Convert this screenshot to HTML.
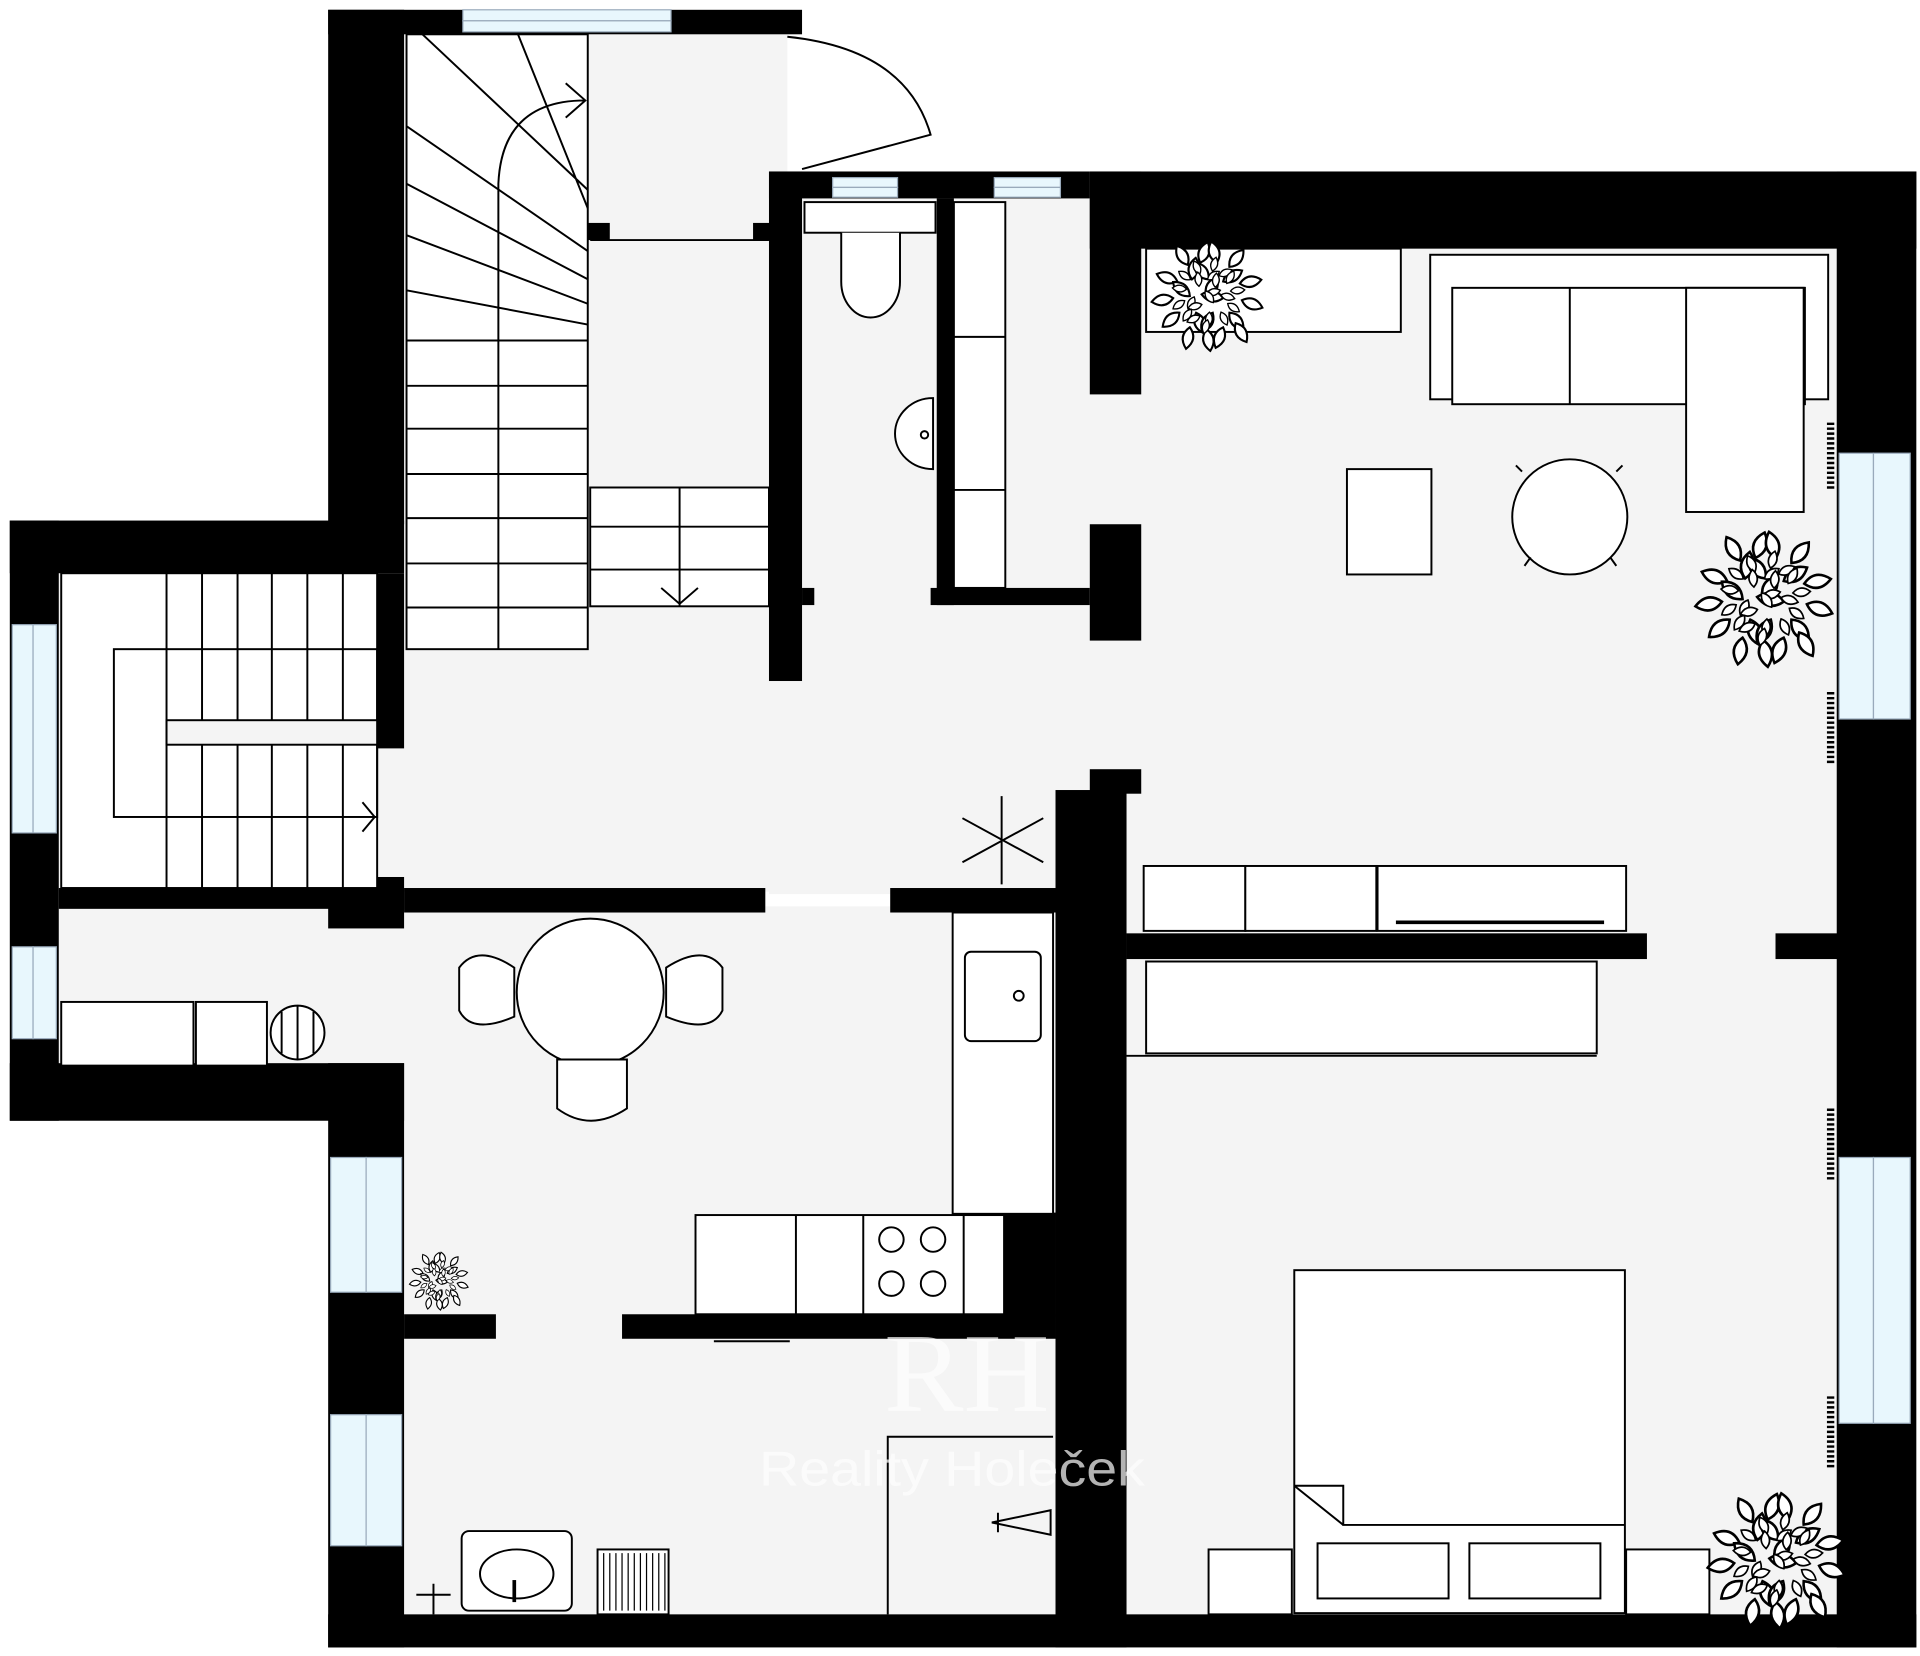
<!DOCTYPE html>
<html><head><meta charset="utf-8"><style>html,body{margin:0;padding:0;background:#fff}svg{display:block}</style></head>
<body>
<svg width="1920" height="1656" viewBox="0 0 1568 1352" preserveAspectRatio="none" xmlns="http://www.w3.org/2000/svg">
<defs>
<path id="lf" d="M0 0 Q10 -10 0 -21 Q-10 -10 0 0Z" fill="#fff" stroke="#000" stroke-width="2"/>
<g id="plant0">
<use href="#lf" transform="translate(-20,-28) rotate(-30)"/>
<use href="#lf" transform="translate(-8,-30) rotate(20)"/>
<use href="#lf" transform="translate(8,-30) rotate(-15)"/>
<use href="#lf" transform="translate(20,-26) rotate(40)"/>
<use href="#lf" transform="translate(-30,-12) rotate(-70)"/>
<use href="#lf" transform="translate(-16,-14) rotate(10)"/>
<use href="#lf" transform="translate(0,-14) rotate(-40)"/>
<use href="#lf" transform="translate(14,-12) rotate(60)"/>
<use href="#lf" transform="translate(30,-10) rotate(80)"/>
<use href="#lf" transform="translate(-34,4) rotate(-100)"/>
<use href="#lf" transform="translate(-18,2) rotate(-50)"/>
<use href="#lf" transform="translate(-2,2) rotate(30)"/>
<use href="#lf" transform="translate(14,4) rotate(-80)"/>
<use href="#lf" transform="translate(32,6) rotate(110)"/>
<use href="#lf" transform="translate(-28,18) rotate(-130)"/>
<use href="#lf" transform="translate(-12,18) rotate(160)"/>
<use href="#lf" transform="translate(4,18) rotate(-150)"/>
<use href="#lf" transform="translate(20,18) rotate(140)"/>
<use href="#lf" transform="translate(-18,32) rotate(190)"/>
<use href="#lf" transform="translate(-2,34) rotate(170)"/>
<use href="#lf" transform="translate(14,32) rotate(200)"/>
<use href="#lf" transform="translate(26,28) rotate(150)"/>
</g>
<g id="plant">
<use href="#plant0"/>
<use href="#plant0" transform="rotate(45) scale(0.65)"/>
</g>
</defs>
<rect width="1568" height="1352" fill="#fff"/>
<g fill="#f4f4f4">
<rect x="330" y="28" width="313" height="700"/>
<rect x="628" y="160" width="300" height="570"/>
<rect x="920" y="200" width="585" height="1120"/>
<rect x="330" y="740" width="540" height="580"/>
<rect x="48" y="465" width="285" height="405"/>
</g>
<g fill="#000">
<rect x="268" y="8" width="62" height="420"/>
<rect x="268" y="8" width="387" height="20"/>
<rect x="628" y="140" width="27" height="416"/>
<rect x="628" y="140" width="262" height="22"/>
<rect x="890" y="140" width="675" height="63"/>
<rect x="1500" y="140" width="65" height="1205"/>
<rect x="890" y="140" width="42" height="182"/>
<rect x="890" y="428" width="42" height="95"/>
<rect x="890" y="628" width="42" height="20"/>
<rect x="862" y="645" width="58" height="700"/>
<rect x="268" y="1318" width="1297" height="27"/>
<rect x="8" y="425" width="40" height="490"/>
<rect x="8" y="425" width="322" height="43"/>
<rect x="8" y="868" width="322" height="47"/>
<rect x="268" y="868" width="62" height="477"/>
<rect x="48" y="725" width="282" height="17"/>
<rect x="268" y="725" width="62" height="33"/>
<rect x="330" y="725" width="295" height="20"/>
<rect x="727" y="725" width="140" height="20"/>
<rect x="330" y="1073" width="75" height="20"/>
<rect x="508" y="1073" width="354" height="20"/>
<rect x="820" y="990" width="42" height="85"/>
<rect x="920" y="762" width="425" height="21"/>
<rect x="1450" y="762" width="55" height="21"/>
<rect x="765" y="162" width="14" height="332"/>
<rect x="760" y="480" width="130" height="14"/>
<rect x="480" y="182" width="18" height="14"/>
<rect x="615" y="182" width="15" height="14"/>
<rect x="655" y="480" width="10" height="14"/>
<rect x="308" y="468" width="22" height="143"/>
<rect x="308" y="716" width="22" height="12"/>
</g>
<g fill="#e8f7fd" stroke="#9ab" stroke-width="1">
<rect x="378" y="8" width="170" height="9"/><rect x="378" y="17" width="170" height="9"/>
<rect x="680" y="145" width="53" height="8"/><rect x="680" y="153" width="53" height="8"/>
<rect x="812" y="145" width="54" height="8"/><rect x="812" y="153" width="54" height="8"/>
<rect x="1502" y="370" width="28" height="217"/><rect x="1530" y="370" width="30" height="217"/>
<rect x="1502" y="945" width="28" height="217"/><rect x="1530" y="945" width="30" height="217"/>
<rect x="10" y="510" width="17" height="170"/><rect x="27" y="510" width="19" height="170"/>
<rect x="10" y="773" width="17" height="75"/><rect x="27" y="773" width="19" height="75"/>
<rect x="270" y="945" width="29" height="110"/><rect x="299" y="945" width="29" height="110"/>
<rect x="270" y="1155" width="29" height="107"/><rect x="299" y="1155" width="29" height="107"/>
</g>
<g fill="none" stroke="#000" stroke-width="1.6">
<path d="M643 30 Q740 40 760 110 L655 138"/>
<rect x="332" y="28" width="148" height="502" fill="#fff"/>
<path d="M407 530 V150 Q410 82 478 82 M462 68 L478 82 L462 96"/>
<path d="M345 28 L480 155 M423 28 L480 170 M332 103 L480 205 M332 150 L480 228 M332 192 L480 248 M332 237 L480 265 M332 278H480 M332 315H480 M332 350H480 M332 387H480 M332 423H480 M332 460H480 M332 496H480"/>
<rect x="482" y="398" width="146" height="97" fill="#fff"/>
<path d="M482 430H628 M482 465H628 M555 398V495 M540 480 L555 493 L570 480"/>
<path d="M482 196H628"/>
<rect x="657" y="165" width="107" height="25" fill="#fff"/>
<path d="M687 190 V230 A23 28 0 0 0 735 230 V190" fill="#fff"/>
<path d="M762 325 A30 28 0 0 0 762 383 Z" fill="#fff"/>
<circle cx="755" cy="355" r="3"/>
<rect x="779" y="165" width="42" height="315" fill="#fff"/>
<path d="M779 275H821 M779 400H821"/>
<rect x="50" y="468" width="258" height="257" fill="#fff"/>
<rect x="93" y="530" width="215" height="137"/>
<rect x="136" y="588" width="172" height="20" fill="#f4f4f4"/>
<path d="M136 468V725 M165 468V588 M194 468V588 M222 468V588 M251 468V588 M280 468V588 M165 608V725 M194 608V725 M222 608V725 M251 608V725 M280 608V725 M296 655 L306 667 L296 679"/>
<rect x="50" y="818" width="108" height="52" fill="#fff"/>
<rect x="160" y="818" width="58" height="52" fill="#fff"/>
<circle cx="243" cy="843" r="22" fill="#fff"/>
<path d="M230 826V860 M243 821V865 M256 826V860"/>
<rect x="936" y="203" width="208" height="68" fill="#fff"/>
<rect x="1168" y="208" width="325" height="118" fill="#fff"/>
<rect x="1186" y="235" width="288" height="95" fill="#fff"/>
<path d="M1282 235V330"/>
<rect x="1377" y="235" width="96" height="183" fill="#fff"/>
<rect x="1100" y="383" width="69" height="86" fill="#fff"/>
<circle cx="1282" cy="422" r="47" fill="#fff"/>
<path d="M1243 385l-5-5 M1320 385l5-5 M1250 455l-5 7 M1315 455l5 7"/>
<rect x="934" y="707" width="83" height="53" fill="#fff"/>
<rect x="1017" y="707" width="107" height="53" fill="#fff"/>
<rect x="1125" y="707" width="203" height="53" fill="#fff"/>
<path d="M1140 753H1310" stroke-width="3"/>
<path d="M1495 345v55 M1495 565v60 M1495 905v60 M1495 1140v60" stroke-dasharray="2 2" stroke-width="6"/>
<path d="M818 650V722 M786 668L852 704 M786 704L852 668"/>
<rect x="936" y="785" width="368" height="75" fill="#fff"/>
<path d="M920 862H1304 M1052 862h135"/>
<rect x="1057" y="1037" width="270" height="280" fill="#fff"/>
<path d="M1057 1213H1097V1245H1327 M1057 1213L1097 1245"/>
<rect x="1076" y="1260" width="107" height="45" fill="#fff"/>
<rect x="1200" y="1260" width="107" height="45" fill="#fff"/>
<rect x="987" y="1265" width="68" height="53" fill="#fff"/>
<rect x="1328" y="1265" width="68" height="53" fill="#fff"/>
<circle cx="482" cy="810" r="60" fill="#fff"/>
<path d="M420 790Q390 770 375 790V825Q385 845 420 830Z" fill="#fff"/>
<path d="M544 790Q575 770 590 790V825Q580 845 544 830Z" fill="#fff"/>
<path d="M455 865H512V905Q482 925 455 905Z" fill="#fff"/>
<rect x="778" y="745" width="82" height="246" fill="#fff"/>
<rect x="788" y="777" width="62" height="73" rx="5" fill="#fff"/>
<circle cx="832" cy="813" r="4"/>
<rect x="568" y="992" width="252" height="81" fill="#fff"/>
<path d="M650 992V1073 M705 992V1073 M787 992V1073"/>
<circle cx="728" cy="1012" r="10"/><circle cx="762" cy="1012" r="10"/>
<circle cx="728" cy="1048" r="10"/><circle cx="762" cy="1048" r="10"/>
<path d="M583 1095H645"/>
<path d="M725 1318V1173H860"/>
<path d="M810 1243L858 1233V1253Z M815 1235V1251"/>
<rect x="377" y="1250" width="90" height="65" rx="6" fill="#fff"/>
<ellipse cx="422" cy="1285" rx="30" ry="20"/>
<path d="M420 1290V1308" stroke-width="3"/>
<rect x="488" y="1265" width="58" height="53" fill="#fff"/>
<path d="M493 1268V1315 M498 1268V1315 M503 1268V1315 M508 1268V1315 M513 1268V1315 M518 1268V1315 M523 1268V1315 M528 1268V1315 M533 1268V1315 M538 1268V1315 M543 1268V1315" stroke-width="1"/>
<path d="M340 1302H368 M354 1293V1318"/>
</g>
<use href="#plant" transform="translate(987,240) scale(0.85)"/>
<use href="#plant" transform="translate(1442,487) scale(1.05)"/>
<use href="#plant" transform="translate(1452,1272) scale(1.05)"/>
<use href="#plant" transform="translate(359,1045) scale(0.45)"/>
<g fill="#fff" opacity="0.7">
<text x="722" y="1152" font-size="92" font-family="Liberation Serif, serif" textLength="135" lengthAdjust="spacingAndGlyphs">RH</text>
<text x="620" y="1213" font-size="40" font-family="Liberation Sans, sans-serif" textLength="315" lengthAdjust="spacingAndGlyphs">Reality Holeček</text>
</g>
</svg>
</body></html>
